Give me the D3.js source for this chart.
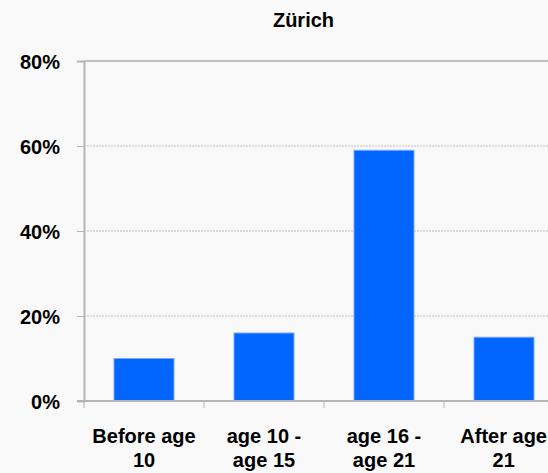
<!DOCTYPE html>
<html>
<head>
<meta charset="utf-8">
<script src="https://cdn.jsdelivr.net/npm/d3@7"></script>
<style>
  html, body { margin: 0; padding: 0; background: #f9f9f9; overflow: hidden; }
  svg { display: block; }
  text { font-family: "Liberation Sans", Arial, sans-serif; font-weight: bold; fill: #000; }
</style>
</head>
<body>
<script>
const title = "Zürich";
const categories = [["Before age", "10"], ["age 10 -", "age 15"], ["age 16 -", "age 21"], ["After age", "21"]];
const values = [10, 16, 59, 15];
const yTicks = [0, 20, 40, 60, 80];

const W = 548, H = 473;
const margin = { left: 84, top: 61, bottom: 72 };
const plotW = 480;
const plotH = H - margin.top - margin.bottom;

const svg = d3.select("body").append("svg").attr("width", W).attr("height", H);
svg.append("rect").attr("width", W).attr("height", H).attr("fill", "#f9f9f9");

const x = d3.scaleBand().domain(d3.range(categories.length)).range([margin.left, margin.left + plotW]).paddingInner(0.5).paddingOuter(0.25);
const xb = d3.scaleBand().domain(d3.range(categories.length)).range([margin.left, margin.left + plotW]);
const y = d3.scaleLinear().domain([0, 80]).range([margin.top + plotH, margin.top]);

// title
svg.append("text").attr("x", 303.5).attr("y", 27).attr("text-anchor", "middle")
  .style("font-size", "20px").text(title);

// gridlines
svg.append("g").selectAll("line").data(yTicks.filter(d => d > 0 && d < 80)).join("line")
  .attr("x1", margin.left).attr("x2", margin.left + plotW)
  .attr("y1", d => y(d)).attr("y2", d => y(d))
  .attr("stroke", "#bdbdbd").attr("stroke-width", 1).attr("stroke-dasharray", "2,1");
svg.append("line").attr("x1", margin.left).attr("x2", margin.left + plotW)
  .attr("y1", y(80)).attr("y2", y(80)).attr("stroke", "#c2c2c2").attr("stroke-width", 2);

// bars
svg.append("g").selectAll("rect").data(values).join("rect")
  .attr("x", (d, i) => x(i)).attr("width", x.bandwidth())
  .attr("y", d => y(d)).attr("height", d => y(0) - y(d))
  .attr("fill", "#0066ff").attr("stroke", "#7aa8ff").attr("stroke-width", 1);

// y axis
const yAxis = d3.axisLeft(y).tickValues(yTicks).tickSize(7).tickFormat(d => d + "%");
const gy = svg.append("g").attr("transform", `translate(${margin.left},0)`).call(yAxis);
gy.select(".domain").attr("stroke", "#b5b5b5").attr("stroke-width", 2);
gy.selectAll(".tick line").attr("stroke", "#b5b5b5").attr("stroke-width", 1);
gy.selectAll(".tick text").attr("x", -24).attr("dy", "0.36em")
  .style("font-size", "20px").style("font-family", "Liberation Sans, Arial, sans-serif").style("font-weight", "bold").attr("fill", "#000");

// x axis
const gx = svg.append("g").attr("transform", `translate(0,${y(0)})`);
gx.append("line").attr("x1", margin.left - 7).attr("x2", margin.left + plotW)
  .attr("y1", 0).attr("y2", 0).attr("stroke", "#b5b5b5").attr("stroke-width", 2);
gx.selectAll("line.tk").data(d3.range(categories.length + 1)).join("line").attr("class", "tk")
  .attr("x1", i => margin.left + i * xb.bandwidth()).attr("x2", i => margin.left + i * xb.bandwidth())
  .attr("y1", 0).attr("y2", 7).attr("stroke", "#b5b5b5").attr("stroke-width", 1);

const lbl = svg.append("g").selectAll("text").data(categories).join("text")
  .attr("text-anchor", "middle").style("font-size", "20px")
  .attr("x", (d, i) => xb(i) + xb.bandwidth() / 2).attr("y", 443);
lbl.selectAll("tspan").data(d => d).join("tspan")
  .attr("x", function() { return d3.select(this.parentNode).attr("x"); })
  .attr("dy", (d, i) => i === 0 ? 0 : 24).text(d => d);
// keep labels inside the window
lbl.each(function() {
  const t = d3.select(this);
  const bb = this.getBBox();
  const cx = +t.attr("x");
  if (bb.x + bb.width > W - 1) {
    const nx = cx - (bb.x + bb.width - (W - 1));
    t.attr("x", nx);
    t.selectAll("tspan").attr("x", nx);
  }
});
</script>
</body>
</html>
